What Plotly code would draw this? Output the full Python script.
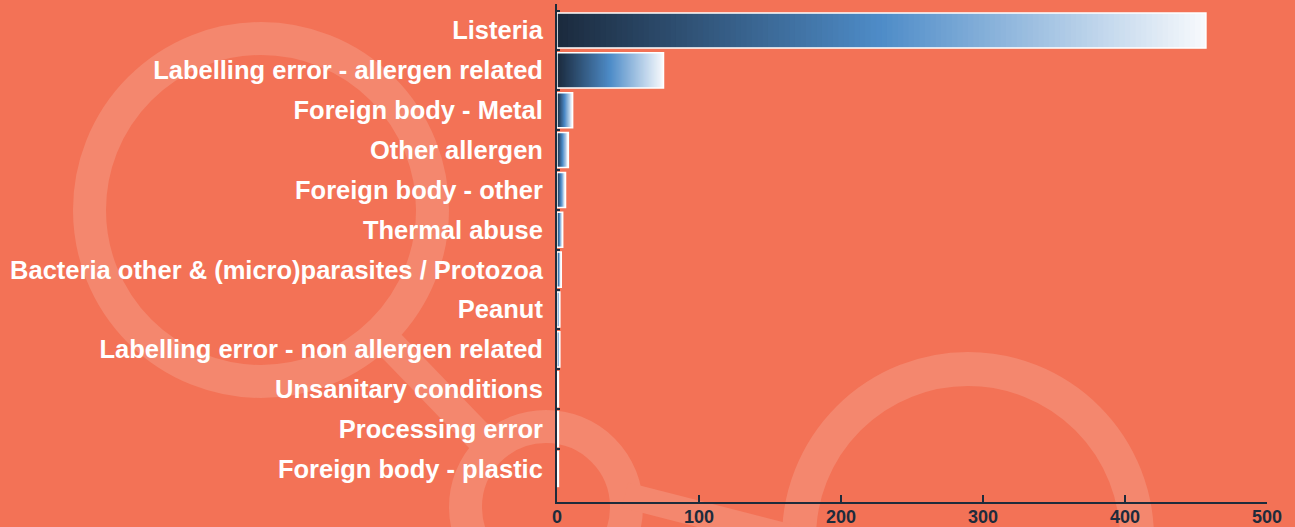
import plotly.graph_objects as go

# ---------------- data ----------------
categories = [
    "Listeria",
    "Labelling error - allergen related",
    "Foreign body - Metal",
    "Other allergen",
    "Foreign body - other",
    "Thermal abuse",
    "Bacteria other & (micro)parasites / Protozoa",
    "Peanut",
    "Labelling error - non allergen related",
    "Unsanitary conditions",
    "Processing error",
    "Foreign body - plastic",
]
values = [457, 75, 11, 8, 6, 4, 3, 2, 2, 1, 1, 1]
x_ticks = [0, 100, 200, 300, 400, 500]

# ---------------- style ----------------
BG = "#f37256"
RING = "#f4876e"
DARK = "#1e2b3b"
FONT = "Liberation Sans, Arial, sans-serif"
W, H = 1295, 527
L, R, T, B = 557, 28, 4, 25
PW, PH = W - L - R, H - T - B

grad_stops = [
    (0.0, (27, 42, 61)),
    (0.5, (78, 140, 200)),
    (1.0, (248, 250, 253)),
]


def grad_color(t):
    for (t0, c0), (t1, c1) in zip(grad_stops[:-1], grad_stops[1:]):
        if t <= t1:
            f = (t - t0) / (t1 - t0)
            return "rgb(%d,%d,%d)" % tuple(round(a + (b - a) * f) for a, b in zip(c0, c1))
    return "rgb(%d,%d,%d)" % grad_stops[-1][1]


fig = go.Figure()

N_STEPS = 120
BAR_W = 0.88
for k in range(N_STEPS):
    frac = k / N_STEPS
    fig.add_trace(go.Bar(
        orientation="h",
        y=categories,
        x=[v * (1 - frac) for v in values],
        base=[v * frac for v in values],
        width=BAR_W,
        marker=dict(color=grad_color((k + 0.5) / N_STEPS), line=dict(width=0)),
        hoverinfo="skip",
        showlegend=False,
    ))

# white outline of each bar
fig.add_trace(go.Bar(
    orientation="h",
    y=categories,
    x=values,
    width=BAR_W,
    marker=dict(color="rgba(0,0,0,0)", line=dict(color="white", width=1.5)),
    hovertemplate="%{y}: %{x}<extra></extra>",
    showlegend=False,
))


# ---------------- decorative rings ----------------
def px_x(p):
    return (p - L) / PW


def px_y(p):
    return 1 - (p - T) / PH


def ring(cx, cy, r, w):
    return dict(type="circle", xref="paper", yref="paper",
                x0=px_x(cx - r), x1=px_x(cx + r), y0=px_y(cy + r), y1=px_y(cy - r),
                line=dict(color=RING, width=w), fillcolor="rgba(0,0,0,0)", layer="below")


def band(xa, ya, xb, yb, w):
    return dict(type="line", xref="paper", yref="paper",
                x0=px_x(xa), y0=px_y(ya), x1=px_x(xb), y1=px_y(yb),
                line=dict(color=RING, width=w), layer="below")


shapes = [
    ring(261, 210, 171.5, 33),
    ring(546, 507, 80.5, 33),
    ring(968, 538, 169, 34),
    band(379, 333, 491, 449, 30),
    band(625, 495, 820, 545, 26),
]

fig.update_layout(
    width=W, height=H,
    margin=dict(l=L, r=R, t=T, b=B, autoexpand=False),
    paper_bgcolor=BG,
    plot_bgcolor="rgba(0,0,0,0)",
    barmode="overlay",
    showlegend=False,
    shapes=shapes,
    font=dict(family=FONT),
)

fig.update_yaxes(
    type="category",
    categoryorder="array",
    categoryarray=categories,
    range=[11.83, -0.665],
    tickson="boundaries",
    ticks="inside", ticklen=3, tickwidth=2, tickcolor=DARK,
    showline=True, linecolor=DARK, linewidth=2,
    showgrid=False, zeroline=False,
    tickfont=dict(family=FONT, size=25.5, color="white", weight="bold"),
    ticklabelstandoff=7,
    layer="below traces",
    automargin=False,
)

fig.update_xaxes(
    range=[0, 500],
    tickmode="array", tickvals=x_ticks, ticktext=[str(t) for t in x_ticks],
    ticks="inside", ticklen=7, tickwidth=1.5, tickcolor=DARK,
    showline=True, linecolor=DARK, linewidth=2,
    showgrid=False, zeroline=False,
    tickfont=dict(family=FONT, size=18, color=DARK, weight="bold"),
    ticklabelstandoff=-3,
    automargin=False,
)

fig.write_html(
    "out.html",
    config={"displayModeBar": False},
    post_script="document.body.style.margin='0';document.body.style.overflow='hidden';",
)
